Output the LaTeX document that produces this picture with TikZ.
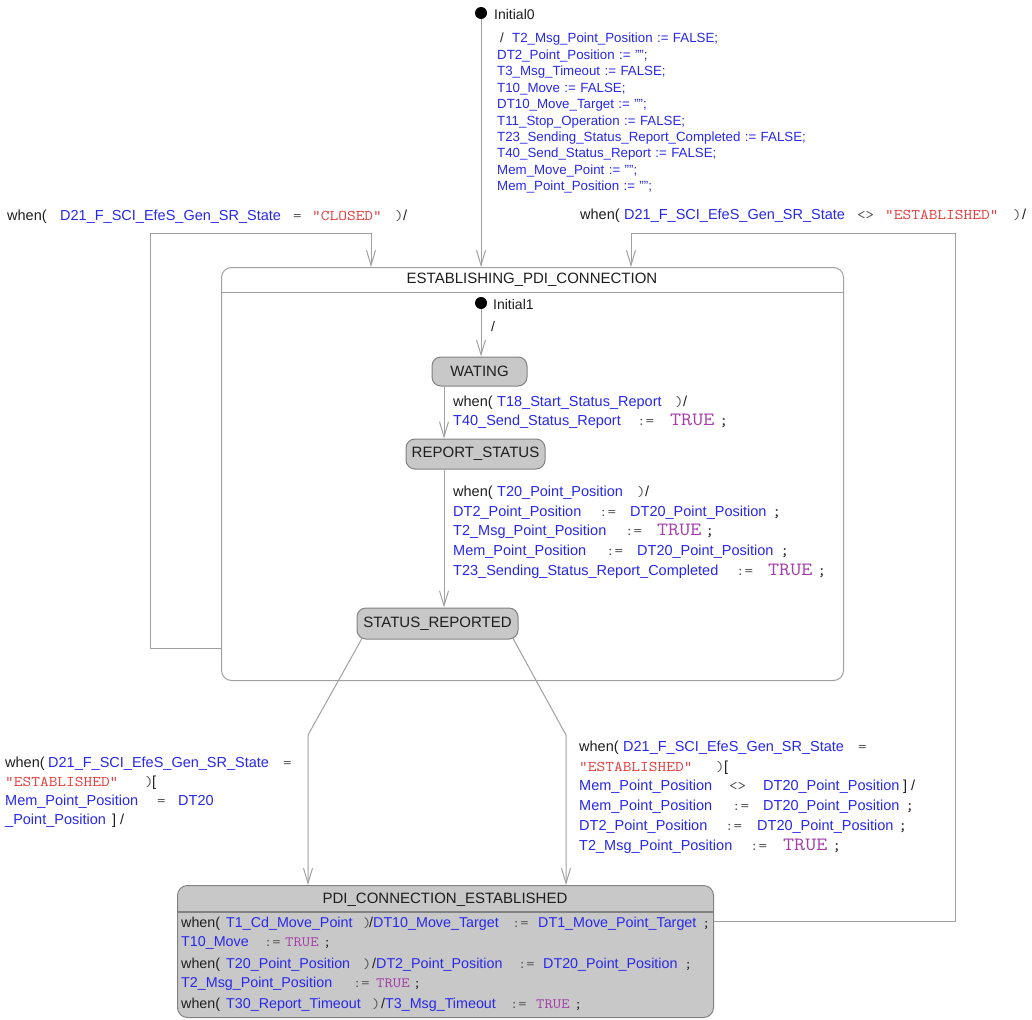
\documentclass[tikz,border=0pt]{standalone}
\usepackage{fontspec}
\setmainfont{Liberation Sans}
\usepackage{graphicx}
\usetikzlibrary{arrows.meta,calc}
\definecolor{idc}{RGB}{40,40,235}
\definecolor{strc}{RGB}{230,60,60}
\definecolor{truc}{RGB}{165,60,170}
\definecolor{kwc}{RGB}{30,30,30}
\definecolor{opc}{RGB}{80,80,80}
\definecolor{linec}{RGB}{160,160,160}
\definecolor{stfill}{RGB}{200,200,200}
\definecolor{stdraw}{RGB}{130,130,130}
\newcommand\idn[1]{\textcolor{idc}{#1}}
\newcommand\kw[1]{\textcolor{kwc}{#1}}
\newcommand\mono[2]{{\ttfamily\fontsize{#1}{#1}\selectfont\scalebox{1.143}[1]{#2}}}
\newcommand\strv[1]{\textcolor{strc}{\mono{14.8}{#1}}}
\newcommand\tru[1]{\textcolor{truc}{\mono{#1}{TRUE}}}
\newcommand\op[2][14.5]{\textcolor{opc}{\mono{#1}{#2}}}
\newcommand\semi{\textcolor{kwc}{\mono{16}{;}}}
\newcommand\semis{\textcolor{kwc}{\mono{14}{;}}}
\newcommand\sg[2]{\makebox[0pt][l]{\hspace*{#1pt}#2}}
\begin{document}
\catcode`\_=12
\begin{tikzpicture}[x=1pt,y=-1pt,
  tr/.style={draw=linec, line width=1pt, -{Straight Barb[length=15pt,width=9pt]}},
  ln/.style={draw=linec, line width=1pt},
  simple/.style={rounded corners=9pt, fill=stfill, draw=stdraw, line width=1pt, font=\fontsize{15}{18}\selectfont, text=kwc, inner sep=0pt},
  lbl/.style={anchor=base west, inner sep=0pt, align=left, text width=460pt, font=\fontsize{14.5}{19.7}\selectfont},
  init/.style={circle, fill=black, minimum size=12pt, inner sep=0pt},
  ilbl/.style={font=\fontsize{14}{16}\selectfont, anchor=west, inner sep=0pt, text=kwc},
  ttl/.style={font=\fontsize{15}{18}\selectfont, text=kwc, inner sep=0pt}]
\fill[white] (0,0) rectangle (1032,1019);
\useasboundingbox (0,0) rectangle (1032,1019);

% composite state
\node[draw=linec, line width=1pt, rounded corners=10pt, fill=white, minimum width=622pt, minimum height=413pt, anchor=north west, inner sep=0pt] (comp) at (221,267) {};
\node[ttl] (compt) at (532,279.5) {ESTABLISHING_PDI_CONNECTION};
\coordinate (ch) at (0,292);
\draw[ln] (comp.west |- ch) -- (comp.east |- ch);

% simple states
\node[simple, minimum width=95pt, minimum height=29pt] (wat) at (479.5,371.5) {WATING};
\node[simple, minimum width=139pt, minimum height=30pt] (rs) at (475.5,454) {REPORT_STATUS};
\node[simple, minimum width=161pt, minimum height=31pt] (sr) at (437.5,623.5) {STATUS_REPORTED};
\node[simple, minimum width=536pt, minimum height=132pt, anchor=north west, rounded corners=10pt] (pdi) at (177,885) {};
\node[ttl] (pdit) at (445,900) {PDI_CONNECTION_ESTABLISHED};
\coordinate (ph) at (0,912);
\draw[draw=stdraw, line width=1.5pt] (pdi.west |- ph) -- (pdi.east |- ph);

% initial pseudostates
\node[init] (i0) at (481,13) {};
\node[ilbl] (i0l) at (494,14) {Initial0};
\node[init] (i1) at (481,303) {};
\node[ilbl] (i1l) at (493,304) {Initial1};

% transitions
\draw[tr] (i0) -- (i0 |- comp.north);
\draw[tr] (i1) -- (i1 |- wat.north);
\coordinate (vx) at (444,0);
\draw[tr] (vx |- wat.south) -- (vx |- rs.north);
\draw[tr] (vx |- rs.south) -- (vx |- sr.north);
\coordinate (L0) at (150,648);
\coordinate (L1) at (150,233);
\coordinate (L2) at (371,233);
\draw[tr] (L0 -| comp.west) -- (L0) -- (L1) -- (L2) -- (L2 |- comp.north);
\coordinate (R0) at (955,921);
\coordinate (R1) at (955,233);
\coordinate (R2) at (631,233);
\draw[tr] (R0 -| pdi.east) -- (R0) -- (R1) -- (R2) -- (R2 |- comp.north);
\coordinate (B0) at (308,735);
\coordinate (B1) at (566,735);
\draw[tr] ($(sr.south west)+(6,-2)$) -- (B0) -- (B0 |- pdi.north);
\draw[tr] ($(sr.south east)+(-6,-2)$) -- (B1) -- (B1 |- pdi.north);

% labels
\node[lbl, font=\fontsize{13.3}{16.45}\selectfont, text=idc] (lab0) at (497,42.8) {\sg{3}{\kw{/}}\sg{15}{T2_Msg_Point_Position := FALSE;}\\DT2_Point_Position := "";\\T3_Msg_Timeout := FALSE;\\T10_Move := FALSE;\\DT10_Move_Target := "";\\T11_Stop_Operation := FALSE;\\T23_Sending_Status_Report_Completed := FALSE;\\T40_Send_Status_Report := FALSE;\\Mem_Move_Point := "";\\Mem_Point_Position := "";};

\node[lbl] (labL) at (7,220) {\sg{0}{\kw{when(}}\sg{53}{\idn{D21_F_SCI_EfeS_Gen_SR_State}}\sg{286}{\op{=}}\sg{305}{\strv{"CLOSED"}}\sg{388}{\op{)}}\sg{396}{\kw{/}}};

\node[lbl] (labR) at (580,219) {\sg{0}{\kw{when(}}\sg{44}{\idn{D21_F_SCI_EfeS_Gen_SR_State}}\sg{277}{\op{<>}}\sg{305}{\strv{"ESTABLISHED"}}\sg{433}{\op{)}}\sg{442}{\kw{/}}};

\node[ilbl] (lab1) at (491,326) {/};

\node[lbl, font=\fontsize{14.5}{19}\selectfont] (labW) at (453,406.5) {\sg{0}{\kw{when(}}\sg{44}{\idn{T18_Start_Status_Report}}\sg{222}{\op{)}}\sg{230}{\kw{/}}\\\sg{0}{\idn{T40_Send_Status_Report}}\sg{184}{\op{:=}}\sg{217}{\tru{18.75}}\sg{266}{\semi}};

\node[lbl] (labS) at (453,496.5) {\sg{0}{\kw{when(}}\sg{44}{\idn{T20_Point_Position}}\sg{184}{\op{)}}\sg{192}{\kw{/}}\\\sg{0}{\idn{DT2_Point_Position}}\sg{146}{\op{:=}}\sg{177}{\idn{DT20_Point_Position}}\sg{319}{\semi}\\\sg{0}{\idn{T2_Msg_Point_Position}}\sg{172}{\op{:=}}\sg{204}{\tru{18.75}}\sg{252}{\semi}\\\sg{0}{\idn{Mem_Point_Position}}\sg{153}{\op{:=}}\sg{184}{\idn{DT20_Point_Position}}\sg{327}{\semi}\\\sg{0}{\idn{T23_Sending_Status_Report_Completed}}\sg{283}{\op{:=}}\sg{315}{\tru{18.75}}\sg{364}{\semi}};

\node[lbl, font=\fontsize{14.5}{19.2}\selectfont] (labBL) at (5,767.2) {\sg{0}{\kw{when(}}\sg{43}{\idn{D21_F_SCI_EfeS_Gen_SR_State}}\sg{278}{\op{=}}\\\sg{0}{\strv{"ESTABLISHED"}}\sg{140}{\op{)}}\sg{147}{\kw{[}}\\\sg{0}{\idn{Mem_Point_Position}}\sg{152}{\op{=}}\sg{173}{\idn{DT20}}\\\sg{0}{\idn{_Point_Position}}\sg{107}{\kw{]}}\sg{115}{\kw{/}}};

\node[lbl] (labBR) at (579,751.5) {\sg{0}{\kw{when(}}\sg{44}{\idn{D21_F_SCI_EfeS_Gen_SR_State}}\sg{279}{\op{=}}\\\sg{0}{\strv{"ESTABLISHED"}}\sg{137}{\op{)}}\sg{145}{\kw{[}}\\\sg{0}{\idn{Mem_Point_Position}}\sg{150}{\op{<>}}\sg{184}{\idn{DT20_Point_Position}}\sg{324}{\kw{]}}\sg{332}{\kw{/}}\\\sg{0}{\idn{Mem_Point_Position}}\sg{153}{\op{:=}}\sg{184}{\idn{DT20_Point_Position}}\sg{326}{\semi}\\\sg{0}{\idn{DT2_Point_Position}}\sg{146}{\op{:=}}\sg{178}{\idn{DT20_Point_Position}}\sg{319}{\semi}\\\sg{0}{\idn{T2_Msg_Point_Position}}\sg{171}{\op{:=}}\sg{204}{\tru{18.75}}\sg{253}{\semi}};

\node[lbl, font=\fontsize{14.3}{19}\selectfont] (labP) at (181,927) {\sg{0}{\kw{when(}}\sg{45}{\idn{T1_Cd_Move_Point}}\sg{182}{\op[14]{)}}\sg{188}{\kw{/}\idn{DT10_Move_Target}}\sg{331}{\op[14]{:=}}\sg{357}{\idn{DT1_Move_Point_Target}}\sg{521}{\semis}\\\sg{0}{\idn{T10_Move}}\sg{83}{\op[14]{:=}}\sg{104}{\tru{14.2}}\sg{142}{\semis}\\[3pt]\sg{0}{\kw{when(}}\sg{45}{\idn{T20_Point_Position}}\sg{182}{\op[14]{)}}\sg{191}{\kw{/}\idn{DT2_Point_Position}}\sg{337}{\op[14]{:=}}\sg{362}{\idn{DT20_Point_Position}}\sg{503}{\semis}\\\sg{0}{\idn{T2_Msg_Point_Position}}\sg{172}{\op[14]{:=}}\sg{195}{\tru{14.2}}\sg{232}{\semis}\\[2pt]\sg{0}{\kw{when(}}\sg{45}{\idn{T30_Report_Timeout}}\sg{191}{\op[14]{)}}\sg{200}{\kw{/}\idn{T3_Msg_Timeout}}\sg{329}{\op[14]{:=}}\sg{355}{\tru{14.2}}\sg{393}{\semis}};
\end{tikzpicture}
\end{document}
